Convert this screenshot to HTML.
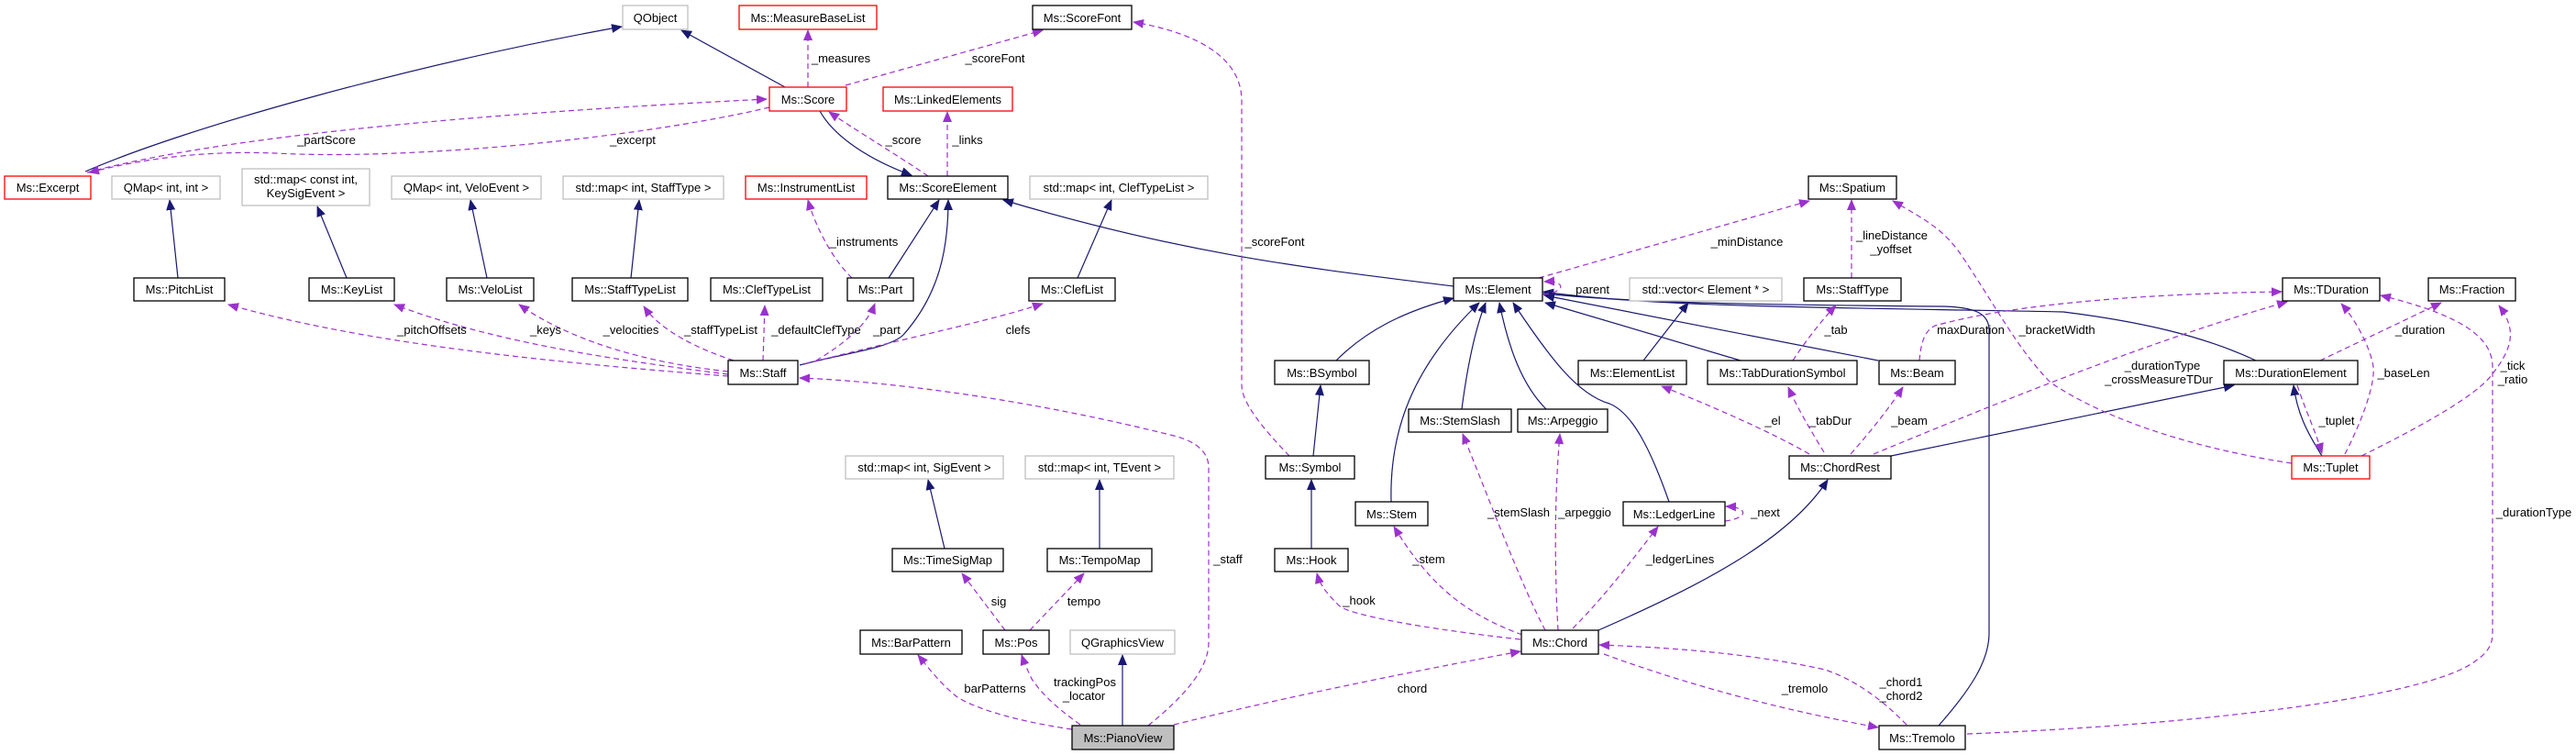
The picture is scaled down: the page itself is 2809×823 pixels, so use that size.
<!DOCTYPE html>
<html><head><meta charset="utf-8"><style>
html,body{margin:0;padding:0;background:#fff;}
svg{display:block;}
text{font-family:"Liberation Sans",sans-serif;font-size:13px;fill:#000;}
.n text{text-anchor:middle;}
.b{fill:#fff;stroke:#000;stroke-width:1.3;}
.g{fill:#fff;stroke:#bfbfbf;stroke-width:1.3;}
.r{fill:#fff;stroke:#ff0000;stroke-width:1.3;}
.s{fill:none;stroke:#191970;stroke-width:1.2;}
.d{fill:none;stroke:#9a32cd;stroke-width:1.2;stroke-dasharray:6,4;}
.l{text-anchor:middle;}
</style></head><body>
<svg width="2809" height="823" viewBox="0 0 2809 823" xmlns="http://www.w3.org/2000/svg">
<defs>
<marker id="ms" markerWidth="12" markerHeight="10" refX="11" refY="5" orient="auto" markerUnits="userSpaceOnUse"><path d="M0,0 L12,5 L0,10 Z" fill="#191970"/></marker>
<marker id="md" markerWidth="12" markerHeight="10" refX="11" refY="5" orient="auto" markerUnits="userSpaceOnUse"><path d="M0,0 L12,5 L0,10 Z" fill="#9a32cd"/></marker>
</defs>

<!-- solid edges -->
<g class="s" marker-end="url(#ms)">
<path d="M93,187 C200,140 450,70 678,29"/>
<path d="M856,95 L743,33"/>
<path d="M894,121 C910,150 950,175 994,191"/>
<path d="M969,303 L1024,218"/>
<path d="M872,398 C920,385 970,380 985,365 C1025,320 1034,270 1034,218"/>
<path d="M1175,303 L1212,218"/>
<path d="M688,303 L697,218"/>
<path d="M531,303 L513,218"/>
<path d="M378,303 L346,225"/>
<path d="M194,303 L185,218"/>
<path d="M1585,312 C1450,295 1300,280 1094,218"/>
<path d="M1457,393 C1490,360 1530,340 1585,325"/>
<path d="M1517,547 C1515,470 1540,400 1613,330"/>
<path d="M1594,446 C1600,400 1608,360 1620,330"/>
<path d="M1686,446 C1660,420 1645,380 1635,330"/>
<path d="M1820,547 C1800,490 1780,450 1755,440 C1720,430 1690,390 1650,330"/>
<path d="M1792,393 L1841,330"/>
<path d="M1898,393 L1685,330"/>
<path d="M2048,393 L1684,322"/>
<path d="M2460,393 C2400,365 2330,350 2250,340 C2000,335 1800,335 1683,318"/>
<path d="M2114,791 C2150,750 2169,720 2169,690 L2169,360 C2169,340 2150,335 2120,334 C1900,332 1780,330 1683,320"/>
<path d="M2062,497 L2436,420"/>
<path d="M2532,497 C2515,470 2505,450 2501,420"/>
<path d="M1743,687 C1850,640 1950,590 1993,523"/>
<path d="M1432,497 L1440,420"/>
<path d="M1430,598 L1430,523"/>
<path d="M1030,598 L1012,523"/>
<path d="M1199,598 L1199,523"/>
<path d="M1224,791 L1224,714"/>
</g>

<!-- dashed edges -->
<g class="d" marker-end="url(#md)">
<path d="M95,188 C200,160 400,130 836,108"/>
<path d="M839,117 C700,150 450,175 300,167 C200,163 130,180 97,188"/>
<path d="M881,95 L881,33"/>
<path d="M922,93 L1137,33"/>
<path d="M1012,192 C980,170 930,140 904,122"/>
<path d="M1033,192 L1033,122"/>
<path d="M929,303 C910,285 890,250 881,218"/>
<path d="M794,410 C600,395 400,375 249,332"/>
<path d="M794,408 C650,390 530,370 430,332"/>
<path d="M794,405 C700,395 620,370 566,332"/>
<path d="M800,393 C760,380 720,360 702,334"/>
<path d="M832,393 L834,333"/>
<path d="M890,393 C920,375 945,355 954,331"/>
<path d="M877,397 C980,370 1080,350 1137,331"/>
<path d="M1252,791 C1290,760 1318,730 1318,700 L1318,510 C1318,490 1300,480 1280,475 C1100,430 950,415 872,412"/>
<path d="M1406,497 C1380,470 1354,440 1354,420 L1354,110 C1354,60 1300,35 1236,24"/>
<path d="M1678,303 L1973,219"/>
<path d="M1683,321 C1708,318 1708,306 1684,307"/>
<path d="M2019,303 L2019,218"/>
<path d="M1955,393 C1970,370 1990,345 2002,333"/>
<path d="M2499,505 C2400,490 2300,460 2236,417 C2200,380 2180,340 2140,280 C2120,250 2100,240 2064,219"/>
<path d="M2043,495 C2200,430 2350,370 2494,329"/>
<path d="M2093,393 C2095,370 2100,360 2110,355 C2200,330 2350,320 2488,318"/>
<path d="M2530,393 L2662,330"/>
<path d="M2557,495 C2575,460 2590,420 2588,400 C2585,380 2570,350 2553,331"/>
<path d="M2575,497 C2650,460 2700,430 2716,410 C2740,380 2745,360 2725,333"/>
<path d="M2145,800 C2400,790 2650,760 2700,720 C2715,710 2718,700 2718,690 L2718,400 C2718,370 2690,345 2596,322"/>
<path d="M2505,420 C2515,450 2525,470 2532,494"/>
<path d="M1973,495 C1930,470 1860,440 1812,421"/>
<path d="M1989,493 C1975,470 1960,445 1950,422"/>
<path d="M2018,495 C2040,470 2060,445 2075,422"/>
<path d="M1685,687 C1660,640 1630,560 1595,473"/>
<path d="M1699,687 C1695,620 1695,540 1701,473"/>
<path d="M1660,692 C1600,670 1560,640 1520,574"/>
<path d="M1715,685 C1750,650 1780,610 1808,574"/>
<path d="M1881,568 C1906,565 1908,553 1882,552"/>
<path d="M1658,697 C1550,685 1470,670 1460,660 C1450,650 1440,640 1436,625"/>
<path d="M1280,790 C1400,760 1550,730 1658,710"/>
<path d="M1749,713 C1850,750 1950,775 2048,793"/>
<path d="M2079,790 C2050,760 2020,740 1990,730 C1900,710 1800,705 1744,703"/>
<path d="M1169,795 C1100,785 1060,770 1044,760 C1025,745 1010,725 1001,714"/>
<path d="M1178,790 C1150,770 1135,755 1125,740 C1118,725 1116,720 1114,714"/>
<path d="M1096,687 L1049,625"/>
<path d="M1123,687 L1182,625"/>
</g>

<!-- edge labels -->
<g class="l">
<text x="356" y="157">_partScore</text>
<text x="690" y="157">_excerpt</text>
<text x="917" y="68">_measures</text>
<text x="1085" y="68">_scoreFont</text>
<text x="985" y="157">_score</text>
<text x="1055" y="157">_links</text>
<text x="942" y="268">_instruments</text>
<text x="786" y="364">_staffTypeList</text>
<text x="890" y="364">_defaultClefType</text>
<text x="967" y="364">_part</text>
<text x="1110" y="364">clefs</text>
<text x="471" y="364">_pitchOffsets</text>
<text x="595" y="364">_keys</text>
<text x="688" y="364">_velocities</text>
<text x="1390" y="268">_scoreFont</text>
<text x="1905" y="268">_minDistance</text>
<text x="2063" y="261">_lineDistance</text>
<text x="2062" y="276">_yoffset</text>
<text x="1733" y="320">_parent</text>
<text x="2002" y="364">_tab</text>
<text x="2149" y="364">maxDuration</text>
<text x="2243" y="364">_bracketWidth</text>
<text x="2639" y="364">_duration</text>
<text x="2358" y="403">_durationType</text>
<text x="2354" y="418">_crossMeasureTDur</text>
<text x="2621" y="411">_baseLen</text>
<text x="2740" y="403">_tick</text>
<text x="2740" y="418">_ratio</text>
<text x="1933" y="463">_el</text>
<text x="1996" y="463">_tabDur</text>
<text x="2082" y="463">_beam</text>
<text x="2548" y="463">_tuplet</text>
<text x="1656" y="563">_stemSlash</text>
<text x="1728" y="563">_arpeggio</text>
<text x="1925" y="563">_next</text>
<text x="2763" y="563">_durationType</text>
<text x="1339" y="614">_staff</text>
<text x="1558" y="614">_stem</text>
<text x="1832" y="614">_ledgerLines</text>
<text x="1089" y="660">sig</text>
<text x="1182" y="660">tempo</text>
<text x="1482" y="659">_hook</text>
<text x="1085" y="755">barPatterns</text>
<text x="1183" y="748">trackingPos</text>
<text x="1182" y="763">_locator</text>
<text x="1540" y="755">chord</text>
<text x="1968" y="755">_tremolo</text>
<text x="2073" y="748">_chord1</text>
<text x="2073" y="763">_chord2</text>
</g>

<!-- nodes -->
<g class="n">
<rect class="g" x="679" y="6" width="71" height="26"/><text x="714.5" y="24">QObject</text>
<rect class="r" x="806" y="6" width="150" height="26"/><text x="881" y="24">Ms::MeasureBaseList</text>
<rect class="b" x="1126" y="6" width="108" height="26"/><text x="1180" y="24">Ms::ScoreFont</text>
<rect class="r" x="839" y="95" width="84" height="26"/><text x="881" y="113">Ms::Score</text>
<rect class="r" x="963" y="95" width="141" height="26"/><text x="1033.5" y="113">Ms::LinkedElements</text>
<rect class="r" x="5" y="192" width="94" height="25"/><text x="52" y="209">Ms::Excerpt</text>
<rect class="g" x="122" y="192" width="118" height="25"/><text x="181" y="209">QMap&lt; int, int &gt;</text>
<rect class="g" x="264" y="184" width="139" height="40"/><text x="333.5" y="200">std::map&lt; const int,</text><text x="333.5" y="215">KeySigEvent &gt;</text>
<rect class="g" x="427" y="192" width="163" height="25"/><text x="508.5" y="209">QMap&lt; int, VeloEvent &gt;</text>
<rect class="g" x="614" y="192" width="175" height="25"/><text x="701.5" y="209">std::map&lt; int, StaffType &gt;</text>
<rect class="r" x="813" y="192" width="132" height="25"/><text x="879" y="209">Ms::InstrumentList</text>
<rect class="b" x="968" y="192" width="131" height="25"/><text x="1033.5" y="209">Ms::ScoreElement</text>
<rect class="g" x="1123" y="192" width="194" height="25"/><text x="1220" y="209">std::map&lt; int, ClefTypeList &gt;</text>
<rect class="b" x="1972" y="192" width="96" height="25"/><text x="2020" y="209">Ms::Spatium</text>
<rect class="b" x="146" y="303" width="99" height="25"/><text x="195.5" y="320">Ms::PitchList</text>
<rect class="b" x="337" y="303" width="93" height="25"/><text x="383.5" y="320">Ms::KeyList</text>
<rect class="b" x="487" y="303" width="95" height="25"/><text x="534.5" y="320">Ms::VeloList</text>
<rect class="b" x="624" y="303" width="126" height="25"/><text x="687" y="320">Ms::StaffTypeList</text>
<rect class="b" x="775" y="303" width="122" height="25"/><text x="836" y="320">Ms::ClefTypeList</text>
<rect class="b" x="924" y="303" width="72" height="25"/><text x="960" y="320">Ms::Part</text>
<rect class="b" x="1122" y="303" width="94" height="25"/><text x="1169" y="320">Ms::ClefList</text>
<rect class="b" x="1585" y="303" width="97" height="25"/><text x="1633.5" y="320">Ms::Element</text>
<rect class="g" x="1777" y="303" width="166" height="25"/><text x="1860" y="320">std::vector&lt; Element * &gt;</text>
<rect class="b" x="1967" y="303" width="106" height="25"/><text x="2020" y="320">Ms::StaffType</text>
<rect class="b" x="2489" y="303" width="106" height="25"/><text x="2542" y="320">Ms::TDuration</text>
<rect class="b" x="2648" y="303" width="95" height="25"/><text x="2695.5" y="320">Ms::Fraction</text>
<rect class="b" x="794" y="393" width="76" height="26"/><text x="832" y="411">Ms::Staff</text>
<rect class="b" x="1390" y="393" width="103" height="26"/><text x="1441.5" y="411">Ms::BSymbol</text>
<rect class="b" x="1721" y="393" width="118" height="26"/><text x="1780" y="411">Ms::ElementList</text>
<rect class="b" x="1862" y="393" width="163" height="26"/><text x="1943.5" y="411">Ms::TabDurationSymbol</text>
<rect class="b" x="2049" y="393" width="83" height="26"/><text x="2090.5" y="411">Ms::Beam</text>
<rect class="b" x="2425" y="393" width="146" height="26"/><text x="2498" y="411">Ms::DurationElement</text>
<rect class="b" x="1536" y="446" width="112" height="25"/><text x="1592" y="463">Ms::StemSlash</text>
<rect class="b" x="1655" y="446" width="98" height="25"/><text x="1704" y="463">Ms::Arpeggio</text>
<rect class="g" x="922" y="497" width="172" height="25"/><text x="1008" y="514">std::map&lt; int, SigEvent &gt;</text>
<rect class="g" x="1118" y="497" width="162" height="25"/><text x="1199" y="514">std::map&lt; int, TEvent &gt;</text>
<rect class="b" x="1380" y="497" width="97" height="25"/><text x="1428.5" y="514">Ms::Symbol</text>
<rect class="b" x="1951" y="497" width="111" height="25"/><text x="2006.5" y="514">Ms::ChordRest</text>
<rect class="r" x="2499" y="497" width="85" height="25"/><text x="2541.5" y="514">Ms::Tuplet</text>
<rect class="b" x="1478" y="547" width="79" height="26"/><text x="1517.5" y="565">Ms::Stem</text>
<rect class="b" x="1770" y="547" width="111" height="26"/><text x="1825.5" y="565">Ms::LedgerLine</text>
<rect class="b" x="973" y="598" width="121" height="25"/><text x="1033.5" y="615">Ms::TimeSigMap</text>
<rect class="b" x="1142" y="598" width="114" height="25"/><text x="1199" y="615">Ms::TempoMap</text>
<rect class="b" x="1390" y="598" width="80" height="25"/><text x="1430" y="615">Ms::Hook</text>
<rect class="b" x="938" y="687" width="111" height="26"/><text x="993.5" y="705">Ms::BarPattern</text>
<rect class="b" x="1072" y="687" width="72" height="26"/><text x="1108" y="705">Ms::Pos</text>
<rect class="g" x="1167" y="687" width="114" height="26"/><text x="1224" y="705">QGraphicsView</text>
<rect class="b" x="1659" y="687" width="84" height="26"/><text x="1701" y="705">Ms::Chord</text>
<rect x="1169" y="791" width="111" height="26" fill="#bfbfbf" stroke="#000" stroke-width="1.3"/><text x="1224.5" y="809">Ms::PianoView</text>
<rect class="b" x="2049" y="791" width="94" height="26"/><text x="2096" y="809">Ms::Tremolo</text>
</g>
</svg>
</body></html>
